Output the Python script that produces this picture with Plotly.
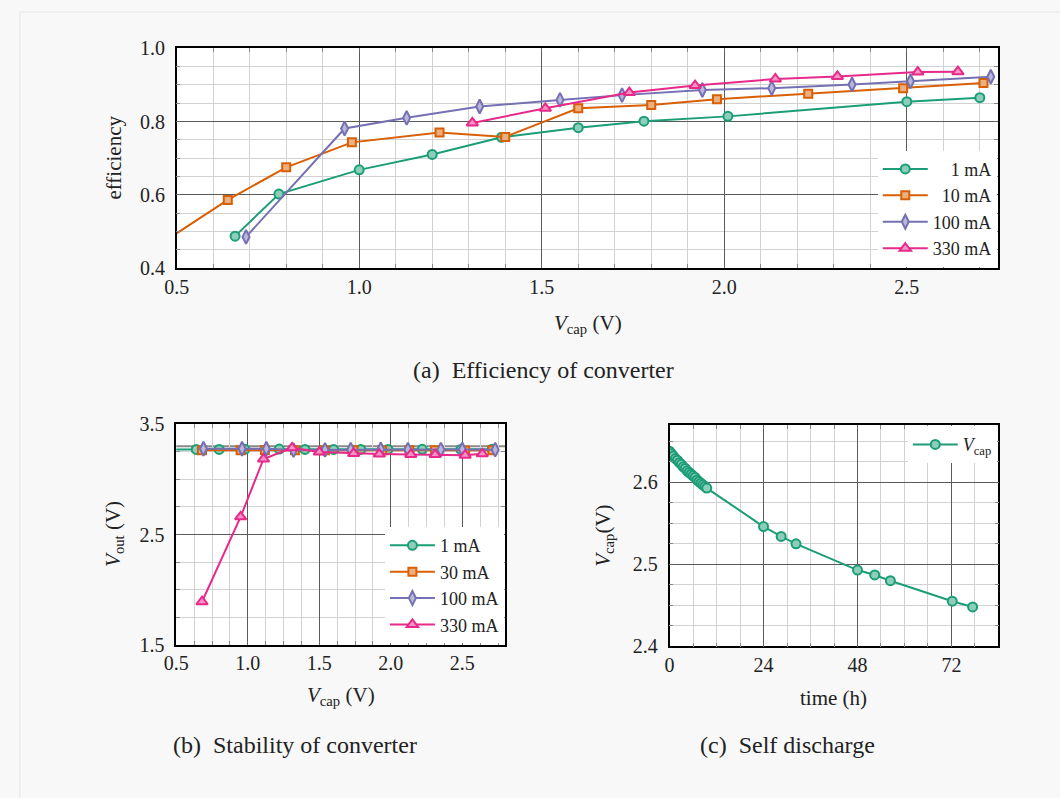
import plotly.graph_objects as go

# ---------------- data ----------------
# (a) efficiency vs capacitor voltage
v_1mA = [0.66, 0.78, 1.00, 1.20, 1.39, 1.60, 1.78, 2.01, 2.50, 2.70]
eff_1mA = [0.487, 0.602, 0.668, 0.710, 0.757, 0.783, 0.801, 0.814, 0.854, 0.865]

v_10mA = [0.45, 0.64, 0.80, 0.98, 1.22, 1.40, 1.60, 1.80, 1.98, 2.23, 2.49, 2.71]
eff_10mA = [0.462, 0.586, 0.675, 0.743, 0.770, 0.758, 0.836, 0.845, 0.861, 0.876, 0.891, 0.905]

v_100mA = [0.69, 0.96, 1.13, 1.33, 1.55, 1.72, 1.94, 2.13, 2.35, 2.51, 2.73]
eff_100mA = [0.485, 0.781, 0.810, 0.841, 0.859, 0.872, 0.886, 0.891, 0.901, 0.910, 0.922]

v_330mA = [1.31, 1.51, 1.74, 1.92, 2.14, 2.31, 2.53, 2.64]
eff_330mA = [0.796, 0.836, 0.879, 0.898, 0.916, 0.923, 0.935, 0.936]

# (b) output voltage vs capacitor voltage
vs_1mA = [0.45, 0.64, 0.80, 0.98, 1.22, 1.40, 1.60, 1.79, 1.98, 2.22, 2.49, 2.71]
vout_1mA = [3.272, 3.272, 3.272, 3.273, 3.275, 3.272, 3.272, 3.272, 3.272, 3.273, 3.272, 3.274]

vs_30mA = [0.68, 0.95, 1.12, 1.33, 1.54, 1.74, 1.94, 2.13, 2.31, 2.52, 2.71]
vout_30mA = [3.265, 3.265, 3.266, 3.264, 3.265, 3.265, 3.265, 3.264, 3.264, 3.262, 3.265]

vs_100mA = [0.69, 0.96, 1.13, 1.32, 1.54, 1.72, 1.93, 2.12, 2.35, 2.50, 2.73]
vout_100mA = [3.278, 3.278, 3.278, 3.266, 3.268, 3.270, 3.272, 3.270, 3.270, 3.271, 3.270]

vs_330mA = [0.68, 0.95, 1.11, 1.31, 1.50, 1.74, 1.92, 2.14, 2.31, 2.52, 2.64]
vout_330mA = [1.89, 2.66, 3.185, 3.286, 3.248, 3.236, 3.230, 3.226, 3.225, 3.220, 3.232]

V_TARGET = 3.3

# (c) self discharge of the capacitor
t_hours = [0, 0.5, 1, 1.5, 2, 2.5, 3, 3.5, 4, 4.5, 5, 5.5, 6, 6.5, 7, 7.5, 8, 8.5, 9, 9.5,
           24.0, 28.5, 32.3, 48.0, 52.4, 56.4, 72.2, 77.4]
v_cap = [2.638, 2.635, 2.632, 2.629, 2.627, 2.624, 2.622, 2.619, 2.617, 2.614,
         2.612, 2.610, 2.608, 2.606, 2.603, 2.601, 2.599, 2.597, 2.595, 2.593,
         2.546, 2.534, 2.525, 2.493, 2.487, 2.480, 2.455, 2.448]

# legend labels; figure spaces (U+2007) right-align the labels of panel (a)
FS = "\u2007"
labels_a = [FS * 2 + "1 mA", FS + "10 mA", "100 mA", "330 mA"]
labels_b = ["1 mA", "30 mA", "100 mA", "330 mA"]

# ---------------- styling ----------------
W, H = 1060, 798
FONT = "Liberation Serif"
GREEN, ORANGE, PURPLE, PINK = "#1b9e77", "#d95f02", "#7570b3", "#e7298a"
FILL = {GREEN: "#8dcebb", ORANGE: "#ecaf80", PURPLE: "#bab7d9", PINK: "#f394c4"}
TXT = "#222222"


def px_x(p):
    """pixel column -> paper fraction"""
    return p / W


def px_y(p):
    """pixel row (from top) -> paper fraction"""
    return 1 - p / H


def series(x, y, color, symbol, name, xa, ya, legend, size=9):
    return go.Scatter(
        x=x, y=y, name=name, mode="lines+markers",
        line=dict(color=color, width=2),
        marker=dict(symbol=symbol, size=size, color=FILL[color],
                    line=dict(color=color, width=2)),
        xaxis=xa, yaxis=ya, legend=legend,
    )


fig = go.Figure()
fig.add_trace(series(v_1mA, eff_1mA, GREEN, "circle", labels_a[0], "x", "y", "legend"))
fig.add_trace(series(v_10mA, eff_10mA, ORANGE, "square", labels_a[1], "x", "y", "legend", 8))
fig.add_trace(series(v_100mA, eff_100mA, PURPLE, "diamond-tall", labels_a[2], "x", "y", "legend", 10))
fig.add_trace(series(v_330mA, eff_330mA, PINK, "triangle-up", labels_a[3], "x", "y", "legend", 10))

fig.add_trace(series(vs_1mA, vout_1mA, GREEN, "circle", labels_b[0], "x2", "y2", "legend2"))
fig.add_trace(series(vs_30mA, vout_30mA, ORANGE, "square", labels_b[1], "x2", "y2", "legend2", 8))
fig.add_trace(series(vs_100mA, vout_100mA, PURPLE, "diamond-tall", labels_b[2], "x2", "y2", "legend2", 10))
fig.add_trace(series(vs_330mA, vout_330mA, PINK, "triangle-up", labels_b[3], "x2", "y2", "legend2", 10))

fig.add_trace(series(t_hours, v_cap, GREEN, "circle", "<i>V</i><sub>cap</sub>", "x3", "y3", "legend3"))


def axis(domain, rng, dtick, minor_dtick, anchor, fmt, standoff):
    return dict(
        domain=domain, range=rng, dtick=dtick, tick0=rng[0], anchor=anchor,
        tickformat=fmt, showgrid=True, gridcolor="#5a5a5a", gridwidth=1,
        zeroline=False, showline=True, linecolor="black", linewidth=1.5,
        mirror="allticks", ticks="inside", ticklen=4, tickcolor="#666",
        ticklabelstandoff=standoff,
        tickfont=dict(family=FONT, size=20, color=TXT),
        minor=dict(dtick=minor_dtick, showgrid=True, gridcolor="#d2d2d2",
                   gridwidth=1, ticks="inside", ticklen=4, tickcolor="#888"),
    )


legend_style = dict(bgcolor="white", borderwidth=0,
                    font=dict(family=FONT, size=18, color=TXT),
                    tracegroupgap=0, itemwidth=45)

fig.update_layout(
    width=W, height=H, margin=dict(l=0, r=0, t=0, b=0),
    paper_bgcolor="#f8f8f8", plot_bgcolor="white",
    font=dict(family=FONT, color=TXT),
    xaxis=axis([px_x(165.7), px_x(997.3)], [0.5, 2.75], 0.5, 0.1, "y", ".1f", 0),
    yaxis=axis([px_y(264.3), px_y(38.3)], [0.4, 1.0], 0.2, 0.05, "x", ".1f", 6),
    xaxis2=axis([px_x(165.3), px_x(498.3)], [0.5, 2.8], 0.5, 0.125, "y2", ".1f", 0),
    yaxis2=axis([px_y(651.7), px_y(425)], [1.5, 3.5], 1.0, 0.25, "x2", ".1f", 6),
    xaxis3=axis([px_x(664.7), px_x(997.7)], [0, 84], 24, 6, "y3", "d", 0),
    yaxis3=axis([px_y(653.3), px_y(425.7)], [2.4, 2.67], 0.1, 0.025, "x3", ".1f", 6),
    legend=dict(x=px_x(996), y=px_y(263), xanchor="right", yanchor="bottom", **legend_style),
    legend2=dict(x=px_x(497), y=px_y(650), xanchor="right", yanchor="bottom", **legend_style),
    legend3=dict(x=px_x(996), y=px_y(427), xanchor="right", yanchor="top", **legend_style),
)

# 3.3 V regulation level
fig.add_shape(type="line", xref="x2 domain", yref="y2", x0=0, x1=1,
              y0=V_TARGET, y1=V_TARGET, line=dict(color="#8a8a8a", width=2),
              layer="below")

# page frame
fig.add_shape(type="rect", xref="paper", yref="paper", x0=px_x(7), x1=1.02,
              y0=-0.02, y1=px_y(1), line=dict(color="#e4e4e4", width=1))


def label(text, x, y, size=21, angle=0):
    fig.add_annotation(text=text, x=px_x(x), y=px_y(y), xref="paper", yref="paper",
                       xanchor="center", yanchor="middle",
                       showarrow=False, textangle=angle,
                       font=dict(family=FONT, size=size, color=TXT))


label("<i>V</i><sub>cap</sub> (V)", 582, 322)
label("efficiency", 102, 151, angle=-90)
label("<i>V</i><sub>cap</sub> (V)", 332, 704)
label("<i>V</i><sub>out</sub> (V)", 102, 538, angle=-90)
label("time (h)", 831, 706)
label("<i>V</i><sub>cap</sub>(V)", 598, 540, angle=-90)

label("(a)  Efficiency of converter", 537, 369, size=24)
label("(b)  Stability of converter", 286, 755, size=24)
label("(c)  Self discharge", 784, 755, size=24)

fig.write_html("out.html")
